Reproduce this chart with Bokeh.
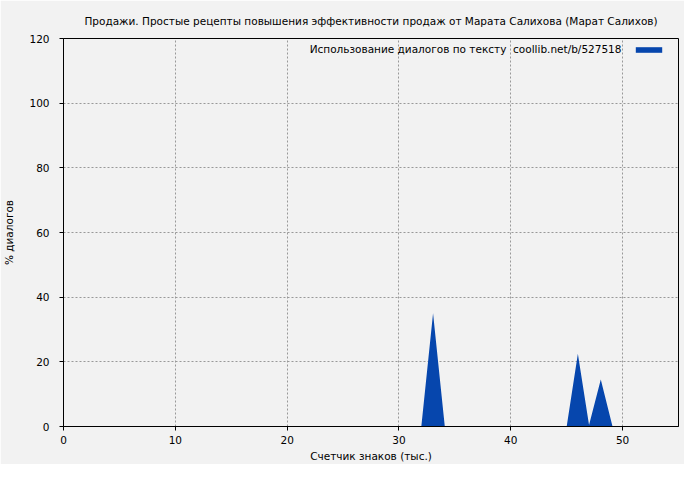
from bokeh.plotting import figure
from bokeh.models import Range1d, Legend, LegendItem, Label, FixedTicker
from bokeh.embed import file_html
from bokeh.resources import INLINE

# Data (thousand characters -> % dialogues)
x_vals = [0.0, 32.0, 33.05, 34.1, 45.0, 46.0, 47.0, 48.05, 49.1, 55.0]
y_vals = [0.0, 0.0, 35.0, 0.0, 0.0, 22.5, 0.5, 14.5, 0.0, 0.0]
x_ticks = [0, 10, 20, 30, 40, 50]
y_ticks = [0, 20, 40, 60, 80, 100, 120]

title_text = "Продажи. Простые рецепты повышения эффективности продаж от Марата Салихова (Марат Салихов)"
legend_text = "Использование диалогов по тексту\u00a0 coollib.net/b/527518"
x_label = "Счетчик знаков (тыс.)"
y_label = "% диалогов"

FONT = "DejaVu Sans"
FS = "10.5px"
BG = "#f2f2f2"
BLUE = "#0646ad"

p = figure(width=684, height=464, output_backend="svg", toolbar_location=None,
           x_range=Range1d(0, 55), y_range=Range1d(0, 120),
           min_border_left=62, min_border_right=6, min_border_top=37, min_border_bottom=36)
p.background_fill_color = BG
p.border_fill_color = BG
p.outline_line_color = "black"
p.outline_line_width = 1

p.title.text = title_text
p.title.align = "center"
p.title.text_font = FONT
p.title.text_font_size = FS
p.title.text_font_style = "normal"
p.title.text_color = "black"
p.title.standoff = 24

area = p.varea(x=x_vals, y1=0, y2=y_vals, fill_color=BLUE, fill_alpha=1.0)

for ax in (p.xaxis[0], p.yaxis[0]):
    ax.axis_line_color = "black"
    ax.major_tick_line_color = "black"
    ax.major_tick_out = 4
    ax.major_tick_in = 0
    ax.minor_tick_line_color = None
    ax.major_label_text_font = FONT
    ax.major_label_text_font_size = FS
    ax.major_label_text_color = "black"
    ax.axis_label_text_font = FONT
    ax.axis_label_text_font_size = FS
    ax.axis_label_text_font_style = "normal"
    ax.axis_label_text_color = "black"

p.xaxis.ticker = FixedTicker(ticks=x_ticks)
p.yaxis.ticker = FixedTicker(ticks=y_ticks)
p.xaxis.axis_label = x_label
p.yaxis.axis_label = y_label
p.xaxis.major_label_standoff = 5
p.xaxis.axis_label_standoff = 3
p.yaxis.major_label_standoff = 10
p.yaxis.axis_label_standoff = 11

for g in (p.xgrid[0], p.ygrid[0]):
    g.grid_line_color = "#999999"
    g.grid_line_dash = "2 2"
    g.grid_line_width = 1
p.xgrid.ticker = FixedTicker(ticks=x_ticks)
p.ygrid.ticker = FixedTicker(ticks=y_ticks)

legend = Legend(items=[LegendItem(label="", renderers=[area])], location="top_right",
                margin=8, padding=0, label_standoff=5, label_width=0, label_height=0,
                glyph_width=33, glyph_height=7, border_line_color=None,
                background_fill_alpha=0)
p.add_layout(legend)

p.add_layout(Label(x=49.9, y=116.6, text=legend_text, text_align="right",
                   text_baseline="middle", text_font=FONT, text_font_size=FS,
                   text_color="black"))

open("out.html", "w").write(file_html(p, INLINE))
